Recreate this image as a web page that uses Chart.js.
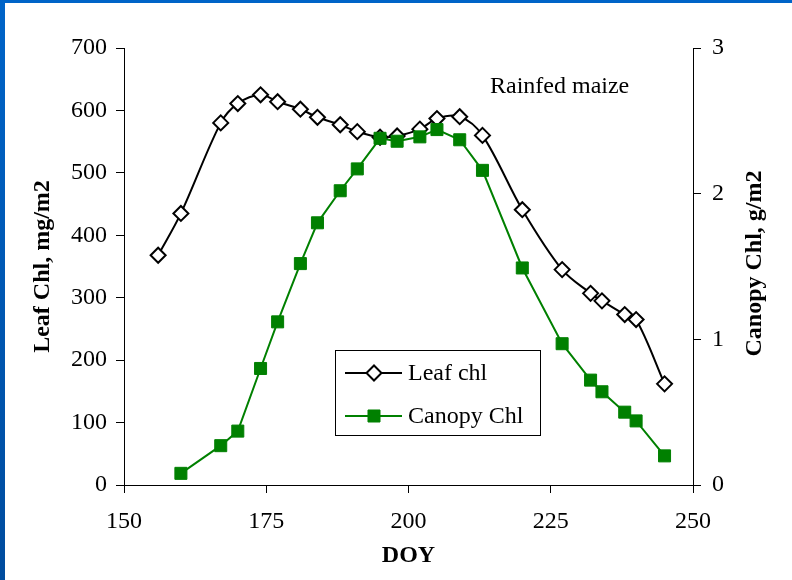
<!DOCTYPE html>
<html>
<head>
<meta charset="utf-8">
<script src="https://cdn.jsdelivr.net/npm/chart.js@4"></script>
<style>
  html, body { margin: 0; padding: 0; background: #fff; }
  #wrap { position: relative; width: 792px; height: 580px; overflow: hidden; }
  #topBar { position: absolute; left: 0; top: 0; width: 792px; height: 3px; background: #0064c8; }
  #leftBar { position: absolute; left: 0; top: 0; width: 5px; height: 580px; background: linear-gradient(#0064c8, #004c9e); }
</style>
</head>
<body>
<div id="wrap">
  <canvas id="chart" width="792" height="580"></canvas>
  <div id="topBar"></div>
  <div id="leftBar"></div>
</div>
<script>
const leafDoy = [156, 160, 167, 170, 174, 177, 181, 184, 188, 191, 195, 198, 202, 205, 209, 213, 220, 227, 232, 234, 238, 240, 245]
const leafChl = [368, 435, 580, 611, 625, 614, 602, 589, 577, 566, 557, 559, 570, 587, 590, 560, 441, 345, 307, 295, 273, 265, 162]
const canopyDoy = [160, 167, 170, 174, 177, 181, 184, 188, 191, 195, 198, 202, 205, 209, 213, 220, 227, 232, 234, 238, 240, 245]
const canopyChl = [0.08, 0.27, 0.37, 0.80, 1.12, 1.52, 1.80, 2.02, 2.17, 2.38, 2.36, 2.39, 2.44, 2.37, 2.16, 1.49, 0.97, 0.72, 0.64, 0.50, 0.44, 0.20]
const seriesNames = ["Leaf chl", "Canopy Chl"]
const note = "Rainfed maize"
const rightTitle = "Canopy Chl, g/m2"

const FONT = '"Liberation Serif", "Times New Roman", serif'
Chart.defaults.font.family = FONT
Chart.defaults.font.size = 24
Chart.defaults.color = "#000"

const tickFont = { family: FONT, size: 24 }
const titleFont = { family: FONT, size: 24, weight: "bold" }

// legend box, annotation and right axis title (reads bottom to top like the left one)
const extras = {
    id: "extras",
    afterDatasetsDraw(chart) {
        const { ctx, chartArea: a } = chart
        ctx.save()
        ctx.fillStyle = "#000"
        ctx.font = "24px " + FONT
        ctx.textBaseline = "alphabetic"
        ctx.fillText(note, a.left + 366, a.top + 45)

        const bx = Math.round(a.left + 211), by = Math.round(a.top + 302), bw = 205, bh = 85
        ctx.fillStyle = "#fff"
        ctx.fillRect(bx, by, bw, bh)
        ctx.strokeStyle = "#000"
        ctx.lineWidth = 1
        ctx.strokeRect(bx + 0.5, by + 0.5, bw, bh)

        chart.data.datasets.forEach((ds, i) => {
            const y = by + 23 + i * 43
            ctx.strokeStyle = ds.borderColor
            ctx.lineWidth = ds.borderWidth
            ctx.beginPath()
            ctx.moveTo(bx + 10, y)
            ctx.lineTo(bx + 67, y)
            ctx.stroke()
            ctx.fillStyle = ds.pointBackgroundColor
            ctx.strokeStyle = ds.pointBorderColor
            ctx.lineWidth = ds.pointBorderWidth
            Chart.helpers.drawPoint(ctx, {
                pointStyle: ds.pointStyle,
                radius: ds.pointRadius,
                borderWidth: ds.pointBorderWidth,
                rotation: 0
            }, bx + 39, y)
            ctx.fillStyle = "#000"
            ctx.textBaseline = "middle"
            ctx.fillText(ds.label, bx + 73, y + 1)
        })

        ctx.translate(chart.width - 37, (a.top + a.bottom) / 2 - 3)
        ctx.rotate(-Math.PI / 2)
        ctx.font = "bold 24px " + FONT
        ctx.textAlign = "center"
        ctx.textBaseline = "middle"
        ctx.fillStyle = "#000"
        ctx.fillText(rightTitle, 0, 0)
        ctx.restore()
    }
}

new Chart(document.getElementById("chart"), {
    type: "line",
    data: {
        datasets: [{
            label: seriesNames[0],
            data: leafDoy.map((d, i) => ({ x: d, y: leafChl[i] })),
            yAxisID: "yLeft",
            borderColor: "#000",
            borderWidth: 2,
            tension: 0.33,
            pointStyle: "rectRot",
            pointRadius: 7.5,
            pointBackgroundColor: "#fff",
            pointBorderColor: "#000",
            pointBorderWidth: 2,
            order: 1
        }, {
            label: seriesNames[1],
            data: canopyDoy.map((d, i) => ({ x: d, y: canopyChl[i] })),
            yAxisID: "yRight",
            borderColor: "#008000",
            borderWidth: 2,
            tension: 0,
            pointStyle: "rect",
            pointRadius: 8.5,
            pointBackgroundColor: "#008000",
            pointBorderColor: "#008000",
            pointBorderWidth: 1,
            order: 0
        }]
    },
    options: {
        responsive: false,
        animation: false,
        devicePixelRatio: 1,
        layout: { padding: { top: 48, left: 0, right: 0, bottom: 0 } },
        plugins: {
            legend: { display: false },
            tooltip: { enabled: false }
        },
        scales: {
            x: {
                type: "linear",
                min: 150,
                max: 250,
                ticks: { stepSize: 25, font: tickFont, color: "#000", padding: 14 },
                grid: { drawOnChartArea: false, tickLength: 8, color: "#000" },
                border: { color: "#000", width: 1 },
                title: { display: true, text: "DOY", font: titleFont, color: "#000", padding: { top: 0, bottom: 10 } },
                afterFit: s => { s.height = 95 }
            },
            yLeft: {
                type: "linear",
                position: "left",
                min: 0,
                max: 700,
                ticks: { stepSize: 100, font: tickFont, color: "#000", padding: 9 },
                grid: { drawOnChartArea: false, tickLength: 8, color: "#000" },
                border: { color: "#000", width: 1 },
                title: { display: true, text: "Leaf Chl, mg/m2", font: titleFont, color: "#000", padding: { top: 28, bottom: 0 } },
                afterFit: s => { s.width = 124 }
            },
            yRight: {
                type: "linear",
                position: "right",
                min: 0,
                max: 3,
                ticks: { stepSize: 1, font: tickFont, color: "#000", padding: 11 },
                grid: { drawOnChartArea: false, tickLength: 8, color: "#000" },
                border: { color: "#000", width: 1 },
                title: { display: false },
                afterFit: s => { s.width = 99 }
            }
        }
    },
    plugins: [extras]
})
</script>
</body>
</html>
